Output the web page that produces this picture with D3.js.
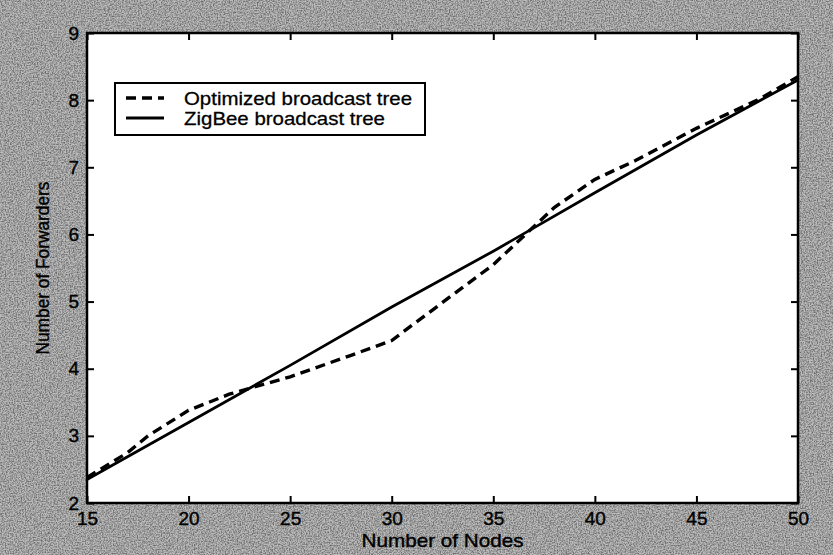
<!DOCTYPE html>
<html><head><meta charset="utf-8">
<script src="https://cdn.jsdelivr.net/npm/d3@7"></script>
<style>body{margin:0;background:#a4a4a4;} svg{display:block;}</style>
</head><body>
<script>
const xTicks = [15,20,25,30,35,40,45,50];
const yTicks = [2,3,4,5,6,7,8,9];
const optX = [15,17,18,20,22,25,28,30,33,35,38,40,42,45,48,50];
const optY = [2.38,2.75,3.0,3.38,3.62,3.88,4.2,4.42,5.1,5.55,6.4,6.82,7.1,7.58,8.0,8.35];
const zigX = [15,20,25,30,35,40,45,50];
const zigY = [2.35,3.2,4.05,4.92,5.75,6.62,7.48,8.3];
const legendLabels = ["Optimized broadcast tree","ZigBee broadcast tree"];

const W=833,H=555;
const m={l:87,r:798,t:33,b:503};
const svg=d3.select("body").append("svg").attr("width",W).attr("height",H);
const defs=svg.append("defs");
const f=defs.append("filter").attr("id","noise").attr("x",0).attr("y",0).attr("width","100%").attr("height","100%");
f.append("feTurbulence").attr("type","fractalNoise").attr("baseFrequency",0.75).attr("numOctaves",3).attr("seed",7).attr("result","t");
f.append("feColorMatrix").attr("type","matrix").attr("values","0 0 0 0 0  0 0 0 0 0  0 0 0 0 0  0 0 0 -2.2 1.45");
svg.append("rect").attr("width",W).attr("height",H).attr("fill","#bdbdbd");
svg.append("rect").attr("width",W).attr("height",H).attr("fill","#000").attr("filter","url(#noise)").attr("opacity",0.45);

const x=d3.scaleLinear().domain([15,50]).range([m.l,m.r]);
const y=d3.scaleLinear().domain([2,9]).range([m.b,m.t]);
svg.append("rect").attr("x",m.l).attr("y",m.t).attr("width",m.r-m.l).attr("height",m.b-m.t).attr("fill","#fff");

const font="Liberation Sans, Arial, sans-serif";
const gx=svg.append("g").attr("transform",`translate(0,${m.b})`).call(d3.axisBottom(x).tickValues(xTicks).tickSize(-7).tickPadding(9).tickFormat(d3.format("d")));
const gxt=svg.append("g").attr("transform",`translate(0,${m.t})`).call(d3.axisTop(x).tickValues(xTicks).tickSize(-7).tickFormat(""));
const gy=svg.append("g").attr("transform",`translate(${m.l},0)`).call(d3.axisLeft(y).tickValues(yTicks).tickSize(-7).tickPadding(8).tickFormat(d3.format("d")));
const gyr=svg.append("g").attr("transform",`translate(${m.r},0)`).call(d3.axisRight(y).tickValues(yTicks).tickSize(-7).tickFormat(""));
[gx,gxt,gy,gyr].forEach(g=>{
  g.select(".domain").remove();
  g.selectAll(".tick line").attr("stroke","#000").attr("stroke-width",2);
  g.selectAll("text").attr("font-family",font).attr("font-size",19).attr("fill","#000").attr("stroke","#000").attr("stroke-width",0.4);
});
svg.append("rect").attr("x",m.l).attr("y",m.t).attr("width",m.r-m.l).attr("height",m.b-m.t).attr("fill","none").attr("stroke","#000").attr("stroke-width",2.5);

const line=d3.line().x(d=>x(d[0])).y(d=>y(d[1]));
const opt=optX.map((v,i)=>[v,optY[i]]);
const zig=zigX.map((v,i)=>[v,zigY[i]]);
svg.append("path").datum(zig).attr("d",line).attr("fill","none").attr("stroke","#000").attr("stroke-width",2.8);
svg.append("path").datum(opt).attr("d",line).attr("fill","none").attr("stroke","#000").attr("stroke-width",3.4).attr("stroke-dasharray","10,6");

// legend
const lg=svg.append("g");
lg.append("rect").attr("x",115).attr("y",83).attr("width",310).attr("height",52).attr("fill","#fff").attr("stroke","#000").attr("stroke-width",2);
const lens=[228,201];
[[98,"10,6",3.4],[118,null,2.8]].forEach((s,i)=>{
  lg.append("line").attr("x1",126).attr("x2",164).attr("y1",s[0]).attr("y2",s[0]).attr("stroke","#000").attr("stroke-width",s[2]).attr("stroke-dasharray",s[1]);
  lg.append("text").attr("x",184).attr("y",s[0]+7).attr("font-family",font).attr("font-size",19)
    .attr("textLength",lens[i]).attr("lengthAdjust","spacingAndGlyphs").attr("stroke","#000").attr("stroke-width",0.3).text(legendLabels[i]);
});

svg.append("text").attr("x",(m.l+m.r)/2).attr("y",547).attr("text-anchor","middle").attr("font-family",font).attr("font-size",19).attr("textLength",162).attr("lengthAdjust","spacingAndGlyphs").attr("stroke","#000").attr("stroke-width",0.4).text("Number of Nodes");
svg.append("text").attr("transform",`translate(49,${(m.t+m.b)/2}) rotate(-90)`).attr("text-anchor","middle").attr("font-family",font).attr("font-size",18).attr("textLength",173).attr("lengthAdjust","spacingAndGlyphs").attr("stroke","#000").attr("stroke-width",0.4).text("Number of Forwarders");
</script>
</body></html>
